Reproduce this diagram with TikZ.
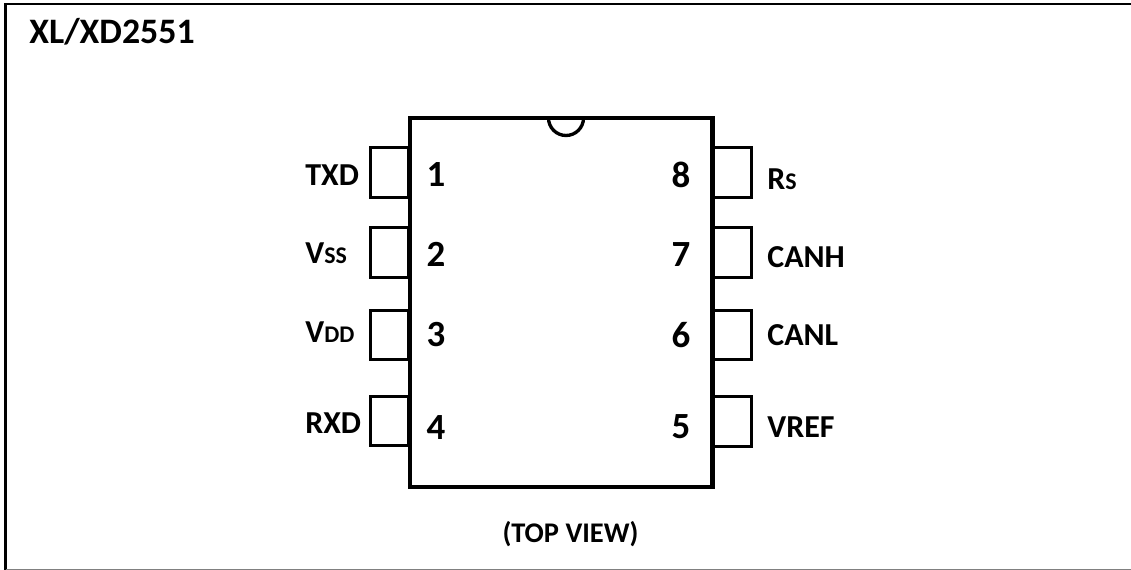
\documentclass[tikz,border=0pt]{standalone}
\usepackage{fontspec}
\setmainfont{Carlito}
\tikzset{
  pinbox/.style={draw, line width=1.7pt, minimum width=22.1pt, minimum height=28.3pt, inner sep=0pt},
  pinnum/.style={font=\fontsize{21pt}{21pt}\selectfont\bfseries, inner sep=0pt},
  pinname/.style={font=\fontsize{18.2pt}{18.2pt}\selectfont\bfseries, inner sep=0pt, anchor=west},
}
\newcommand{\smallpart}[1]{{\fontsize{13.6pt}{13.6pt}\selectfont #1}}
\begin{document}
\begin{tikzpicture}[x=0.02cm, y=-0.02cm]
    \useasboundingbox (0,0) rectangle (1131,570);
    % outer frame, open on the right
    \coordinate (ftr) at (1131,4);
    \coordinate (ftl) at (5.5,4);
    \coordinate (fbl) at (5.5,570);
    \coordinate (fbr) at (1131,569.3);
    \draw[line width=1.6pt, line join=miter] (ftr) -- (ftl) -- (fbl);
    \draw[line width=0.8pt, gray] (fbl |- fbr) -- (fbr);
    \node[font=\fontsize{20.4pt}{20.4pt}\selectfont\bfseries, inner sep=0pt, anchor=west] (title) at (29,32) {XL/XD2551};
    % left pins
    \foreach \n/\y/\numy/\namey/\txt in {
        1/172.5/175/175/TXD,
        2/252.5/254/253/{V\smallpart{SS}},
        3/335/335/332/{V\smallpart{DD}},
        4/421/427.5/423.5/RXD
    } {
        \node[pinbox] (pin\n) at (389.5,\y) {};
        \node[pinnum] (num\n) at (436,\numy) {\n};
        \node[pinname] (name\n) at (305,\namey) {\txt};
    }
    % right pins
    \foreach \n/\y/\numy/\namey/\txt in {
        8/172.5/175/179/{R\smallpart{S}},
        7/252.5/254.5/257/CANH,
        6/335/335/335/CANL,
        5/421.5/427/427/VREF
    } {
        \node[pinbox] (pin\n) at (732.5,\y) {};
        \node[pinnum] (num\n) at (681,\numy) {\n};
        \node[pinname] (name\n) at (767,\namey) {\txt};
    }
    % package body
    \node[draw, line width=2.3pt, minimum width=6.06cm, minimum height=7.38cm, inner sep=0pt] (body) at (561,302.5) {};
    \coordinate (notch) at (548.5,118);
    \draw[line width=1.9pt] (notch) arc (180:0:17.5);
    \node[font=\fontsize{16.2pt}{16.2pt}\selectfont\bfseries, inner sep=0pt] (view) at (570.5,534) {(TOP VIEW)};
\end{tikzpicture}
\end{document}
